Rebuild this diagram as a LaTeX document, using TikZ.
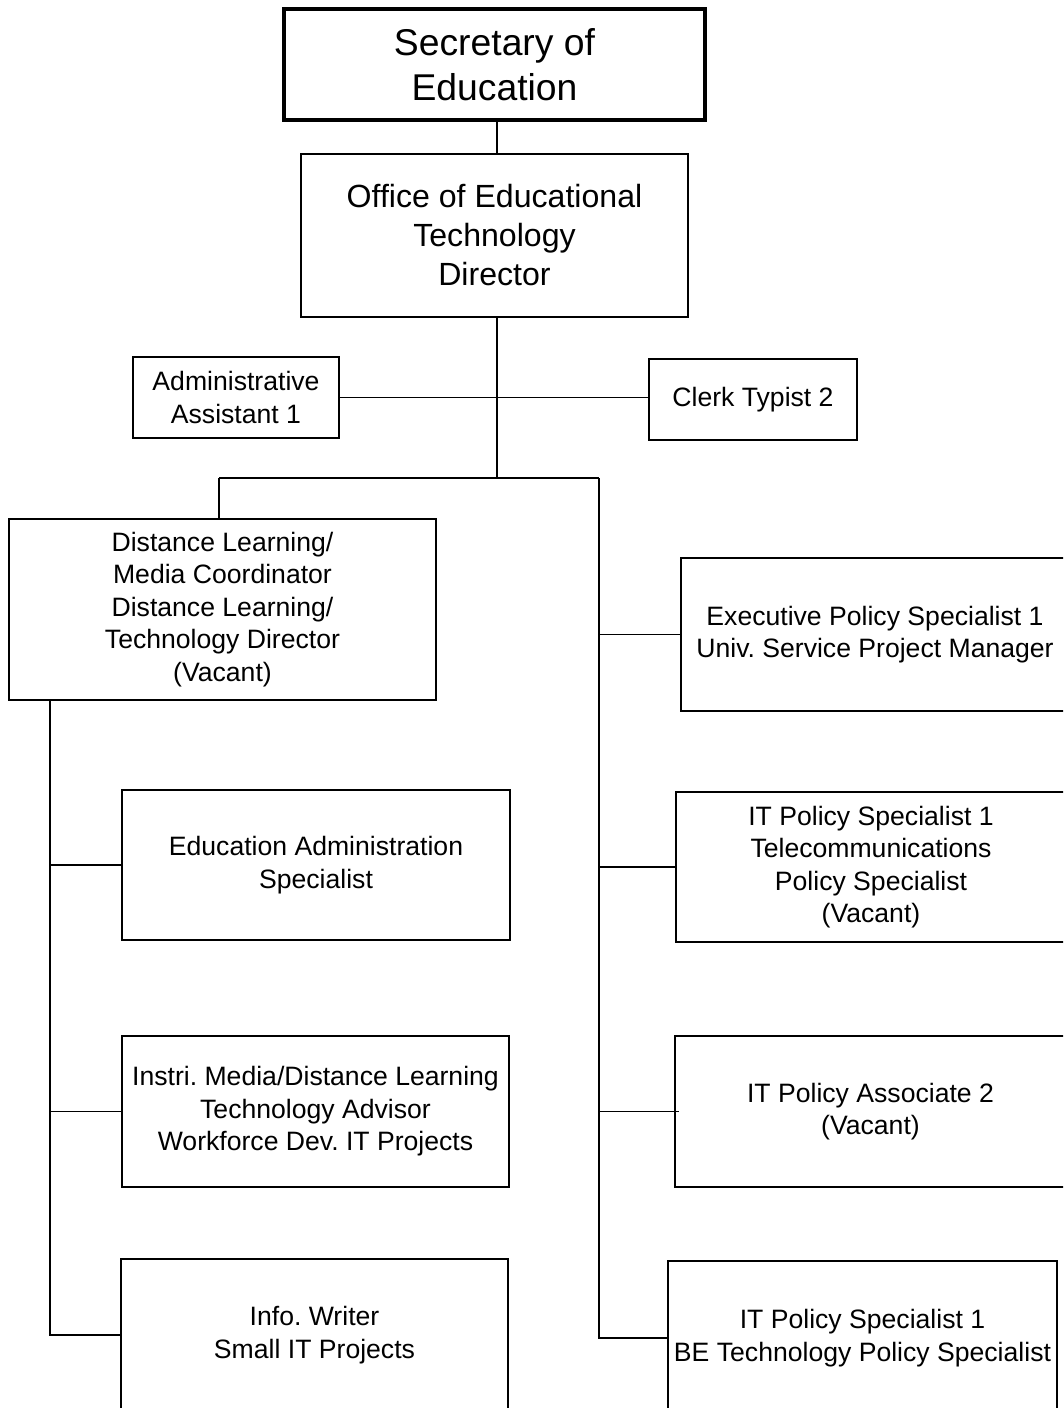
\documentclass[tikz,border=0pt]{standalone}
\usepackage{fontspec}
\setmainfont{Liberation Sans}
\frenchspacing
\begin{document}
\begin{tikzpicture}[x=1pt,y=-1pt,
  box/.style={draw=black,line width=1.9pt,rectangle,inner sep=0pt,align=center,
    font=\fontsize{26.6}{32.4}\selectfont},
  topbox/.style={box,line width=4.5pt,font=\fontsize{37.3}{44.5}\selectfont},
  midbox/.style={box,font=\fontsize{32.1}{39}\selectfont},
  link/.style={draw=black,line width=1.9pt}]
\clip (0,0) rectangle (1063,1408);
\fill[white] (0,0) rectangle (1063,1408);
% nodes
\node[topbox,minimum width=421pt,minimum height=111pt] (sec) at (494.5,64.5) {Secretary of\\Education};
\node[midbox,minimum width=387pt,minimum height=163pt] (off) at (494.5,235.5) {Office of Educational\\Technology\\Director};
\node[box,minimum width=206pt,minimum height=81pt] (adm) at (236,397.5) {Administrative\\Assistant 1};
\node[box,minimum width=208pt,minimum height=81pt] (clk) at (753,399.5) {Clerk Typist 2};
\node[box,minimum width=427pt,minimum height=181pt] (dl) at (222.5,609.5) {Distance Learning/\\Media Coordinator\\Distance Learning/\\Technology Director\\(Vacant)};
\node[box,minimum width=388pt,minimum height=150pt] (eas) at (316,865) {Education Administration\\Specialist};
\node[box,minimum width=387pt,minimum height=151pt] (ins) at (315.5,1111.5) {Instri. Media/Distance Learning\\Technology Advisor\\Workforce Dev. IT Projects};
\node[box,minimum width=387pt,minimum height=152pt] (inf) at (314.5,1335) {Info. Writer\\Small IT Projects};
\node[box,minimum width=388pt,minimum height=153pt] (exe) at (875,634.5) {Executive Policy Specialist 1\\Univ. Service Project Manager};
\node[box,minimum width=390pt,minimum height=150pt] (tel) at (871,867) {IT Policy Specialist 1\\Telecommunications\\Policy Specialist\\(Vacant)};
\node[box,minimum width=391pt,minimum height=151pt] (asc) at (870.5,1111.5) {IT Policy Associate 2\\(Vacant)};
\node[box,minimum width=389pt,minimum height=154pt] (be) at (862.5,1338) {IT Policy Specialist 1\\BE Technology Policy Specialist};
% junctions
\coordinate (jm) at (497,478);
\coordinate (jl) at (219,478);
\coordinate (jr) at (599,478);
\coordinate (tl) at (50,699);
% connectors
\draw[link] (sec.south -| jm) -- (off.north -| jm);
\draw[link] (off.south -| jm) -- (jm);
\draw[link] (adm.east) -- (adm.east -| clk.west);
\draw[link] (jl) -- (jr);
\draw[link] (jl) -- (jl |- dl.north);
\draw[link] (jr) -- (jr |- be.west) -- (be.west);
\draw[link] (jr |- exe.west) -- (exe.west);
\draw[link] (jr |- tel.west) -- (tel.west);
\draw[link] (jr |- asc.west) -- ([xshift=5pt]asc.west);
\draw[link] (tl |- dl.south) -- (tl |- inf.west) -- (inf.west);
\draw[link] (tl |- eas.west) -- (eas.west);
\draw[link] (tl |- ins.west) -- (ins.west);
\end{tikzpicture}
\end{document}
